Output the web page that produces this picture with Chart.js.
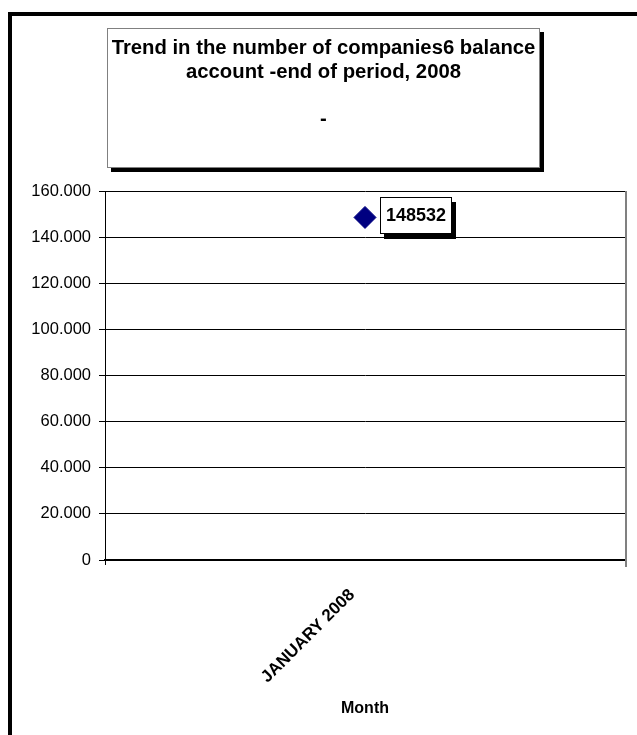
<!DOCTYPE html>
<html>
<head>
<meta charset="utf-8">
<script src="https://cdn.jsdelivr.net/npm/chart.js@4/dist/chart.umd.min.js"></script>
<style>
html,body{margin:0;padding:0;background:#fff;overflow:hidden}
#wrap{width:637px;height:735px;position:relative}
canvas{display:block}
</style>
</head>
<body>
<div id="wrap"><canvas id="c" width="637" height="735"></canvas></div>
<script>
// ---- data ----
const categories = ['JANUARY 2008'];
const companies = [148532];
const yTicks = [0, 20000, 40000, 60000, 80000, 100000, 120000, 140000, 160000];
const titleLines = ['Trend in the number of companies6 balance', 'account -end of period, 2008', '', '-'];
const xAxisTitle = 'Month';

const FONT = '"Liberation Sans", Arial, Helvetica, sans-serif';

function fmt(v) {
  return String(v).replace(/\B(?=(\d{3})+(?!\d))/g, '.');
}

const decor = {
  id: 'decor',
  beforeDraw(chart) {
    const ctx = chart.ctx;
    ctx.save();
    ctx.fillStyle = '#fff';
    ctx.fillRect(0, 0, chart.width, chart.height);
    // outer frame
    ctx.strokeStyle = '#000';
    ctx.lineWidth = 4;
    ctx.strokeRect(10, 14, 900, 900);
    // title box with shadow
    const bx = 107, by = 28, bw = 433, bh = 140;
    ctx.fillStyle = '#000';
    ctx.fillRect(bx + 4, by + 4, bw, bh);
    ctx.fillStyle = '#fff';
    ctx.fillRect(bx, by, bw, bh);
    ctx.strokeStyle = '#808080';
    ctx.lineWidth = 1;
    ctx.strokeRect(bx + 0.5, by + 0.5, bw - 1, bh - 1);
    // title text
    ctx.fillStyle = '#000';
    ctx.font = 'bold 20.3px ' + FONT;
    ctx.textAlign = 'center';
    ctx.textBaseline = 'alphabetic';
    titleLines.forEach((t, i) => {
      ctx.fillText(t, bx + bw / 2, 54 + i * 23.5);
    });
    ctx.restore();
  },
  afterDraw(chart) {
    const ctx = chart.ctx;
    const a = chart.chartArea;
    ctx.save();
    // right gray border of plot area
    ctx.strokeStyle = '#808080';
    ctx.lineWidth = 2;
    ctx.beginPath();
    ctx.moveTo(a.right + 1, a.top);
    ctx.lineTo(a.right + 1, a.bottom + 7);
    ctx.stroke();
    // data label
    const meta = chart.getDatasetMeta(0);
    meta.data.forEach((pt, i) => {
      const w = 72, h = 37;
      const lx = Math.round(pt.x + 15), ly = Math.round(pt.y - 20);
      ctx.fillStyle = '#000';
      ctx.fillRect(lx + 4, ly + 5, w, h);
      ctx.fillStyle = '#fff';
      ctx.fillRect(lx, ly, w, h);
      ctx.strokeStyle = '#000';
      ctx.lineWidth = 1;
      ctx.strokeRect(lx + 0.5, ly + 0.5, w - 1, h - 1);
      ctx.fillStyle = '#000';
      ctx.font = 'bold 18px ' + FONT;
      ctx.textAlign = 'center';
      ctx.textBaseline = 'middle';
      ctx.fillText(String(companies[i]), lx + w / 2, ly + h / 2 + 1);
    });
    ctx.restore();
  }
};

new Chart(document.getElementById('c'), {
  type: 'line',
  data: {
    labels: categories,
    datasets: [{
      data: companies,
      borderColor: '#000080',
      backgroundColor: '#000080',
      pointStyle: 'rectRot',
      pointRadius: 11,
      pointBorderWidth: 1,
      pointBackgroundColor: '#000080',
      pointBorderColor: '#000080',
      showLine: false
    }]
  },
  options: {
    responsive: false,
    animation: false,
    devicePixelRatio: 1,
    layout: { padding: { top: 191, right: 10, left: 0, bottom: 0 } },
    plugins: { legend: { display: false }, tooltip: { enabled: false }, title: { display: false } },
    scales: {
      x: {
        type: 'category',
        offset: true,
        afterFit(s) { s.height = 175; },
        grid: { display: true, drawOnChartArea: false, drawTicks: true, tickLength: 5, color: '#000', offset: true },
        border: { display: true, color: '#000', width: 2 },
        ticks: {
          color: '#000',
          font: { family: FONT, size: 17, weight: 'bold' },
          minRotation: 45, maxRotation: 45,
          padding: 20,
          labelOffset: -13
        },
        title: {
          display: true, text: xAxisTitle, color: '#000',
          font: { family: FONT, size: 16, weight: 'bold' },
          padding: { top: 4, bottom: 17 }
        }
      },
      y: {
        min: 0, max: 160000,
        afterFit(s) { s.width = 105; },
        afterBuildTicks(s) { s.ticks = yTicks.map(v => ({ value: v })); },
        grid: { color: '#000', lineWidth: 1, tickLength: 6 },
        border: { display: true, color: '#000', width: 1 },
        ticks: {
          color: '#000',
          font: { family: FONT, size: 16.5 },
          padding: 8,
          callback: v => fmt(v)
        }
      }
    }
  },
  plugins: [decor]
});
</script>
</body>
</html>
